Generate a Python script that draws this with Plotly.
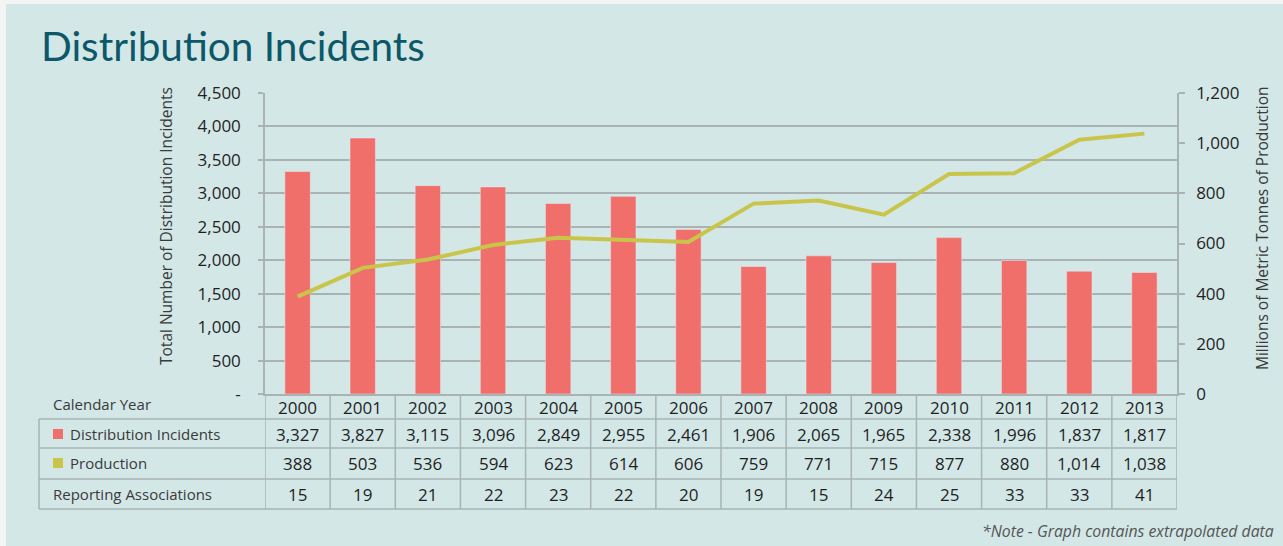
import plotly.graph_objects as go

years = [2000, 2001, 2002, 2003, 2004, 2005, 2006, 2007, 2008, 2009, 2010, 2011, 2012, 2013]
incidents = [3327, 3827, 3115, 3096, 2849, 2955, 2461, 1906, 2065, 1965, 2338, 1996, 1837, 1817]
production = [388, 503, 536, 594, 623, 614, 606, 759, 771, 715, 877, 880, 1014, 1038]
associations = [15, 19, 21, 22, 23, 22, 20, 19, 15, 24, 25, 33, 33, 41]
left_ticks = [0, 500, 1000, 1500, 2000, 2500, 3000, 3500, 4000, 4500]
right_ticks = [0, 200, 400, 600, 800, 1000, 1200]

W, H = 1283, 546
L, R, T, B = 265, 1177, 93, 394
BAR = "#f06f6a"
LINE = "#c9c54b"
GRID = "#a9b3b3"
TXT = "#1f1f1f"
FONT = "Open Sans"

def fx(p):
    return (p - L) / (R - L)

def fy(p):
    return (B - p) / (B - T)

xs = list(range(len(years)))

fig = go.Figure()
fig.add_trace(go.Bar(x=xs, y=incidents, marker_color=BAR, width=0.39, yaxis="y",
                     name="Distribution Incidents"))
fig.add_trace(go.Scatter(x=xs, y=production, mode="lines", line=dict(color=LINE, width=4),
                         yaxis="y2", name="Production"))

shapes = []
shapes.append(dict(type="rect", xref="paper", yref="paper", x0=fx(6), x1=fx(W + 5),
                   y0=fy(4), y1=fy(H + 5), fillcolor="#d3e7e7", line=dict(width=0), layer="below"))

rows = [394, 419, 448, 479, 509]
for r in rows[1:]:
    shapes.append(dict(type="line", xref="paper", yref="paper", x0=fx(39), x1=fx(R),
                       y0=fy(r), y1=fy(r), line=dict(color=GRID, width=1.5)))
for i in range(len(years) + 1):
    shapes.append(dict(type="line", xref="x", yref="paper", x0=i - 0.5, x1=i - 0.5,
                       y0=fy(394), y1=fy(509), line=dict(color=GRID, width=1.5)))
shapes.append(dict(type="line", xref="paper", yref="paper", x0=fx(39), x1=fx(39),
                   y0=fy(419), y1=fy(509), line=dict(color=GRID, width=1.5)))
shapes.append(dict(type="rect", xref="paper", yref="paper", x0=fx(53), x1=fx(63),
                   y0=fy(429), y1=fy(439), fillcolor=BAR, line=dict(width=0)))
shapes.append(dict(type="rect", xref="paper", yref="paper", x0=fx(53), x1=fx(63),
                   y0=fy(458), y1=fy(468), fillcolor=LINE, line=dict(width=0)))

ann = []
row_centers = [407, 434, 463, 494]
def fmt(v):
    return f"{v:,}"
cell_font = dict(size=17, color=TXT, family=FONT)
for i in xs:
    for r, val in zip(row_centers, [years[i], incidents[i], production[i], associations[i]]):
        txt = str(val) if r == row_centers[0] else fmt(val)
        ann.append(dict(x=i, y=fy(r), xref="x", yref="paper", text=txt, yanchor="middle",
                        xanchor="center", showarrow=False, font=cell_font))

labels = [("Calendar Year", 51, row_centers[0] - 3), ("Distribution Incidents", 68, row_centers[1]),
          ("Production", 68, row_centers[2]), ("Reporting Associations", 51, row_centers[3])]
for t, x, y in labels:
    ann.append(dict(x=fx(x), y=fy(y), xref="paper", yref="paper", text=t, xanchor="left",
                    yanchor="middle", showarrow=False,
                    font=dict(size=15, color="#3a3a3a", family=FONT)))

ann.append(dict(x=fx(39), y=fy(46), xref="paper", yref="paper", text="Distribution Incidents",
                xanchor="left", yanchor="middle", showarrow=False,
                font=dict(size=40.5, color="#0c5869", family="Lato")))
ann.append(dict(x=fx(166), y=fy(226), xref="paper", yref="paper", xanchor="center", yanchor="middle",
                text="Total Number of Distribution Incidents", textangle=-90, showarrow=False,
                font=dict(size=15.5, color="#3a3a3a", family=FONT)))
ann.append(dict(x=fx(1262), y=fy(228), xref="paper", yref="paper", xanchor="center", yanchor="middle",
                text="Millions of Metric Tonnes of Production", textangle=-90, showarrow=False,
                font=dict(size=15.5, color="#3a3a3a", family=FONT)))
ann.append(dict(x=fx(1276), y=fy(531), xref="paper", yref="paper", xanchor="right", yanchor="middle",
                text="<i>*Note - Graph contains extrapolated data</i>", showarrow=False,
                font=dict(size=15.8, color="#555555", family=FONT)))

fig.update_layout(
    width=W, height=H,
    margin=dict(l=L, r=W - R, t=T, b=H - B, pad=0),
    paper_bgcolor="#f3f5f5", plot_bgcolor="rgba(0,0,0,0)",
    showlegend=False,
    xaxis=dict(range=[-0.5, len(years) - 0.5], showticklabels=False, ticks="",
               showgrid=False, showline=True, linecolor=GRID, linewidth=1.5, zeroline=False),
    yaxis=dict(range=[0, 4500], tickvals=left_ticks,
               ticktext=["-"] + [fmt(v) for v in left_ticks[1:]],
               showgrid=True, gridcolor=GRID, gridwidth=1.5, ticks="outside", ticklen=5,
               tickcolor=GRID, tickwidth=1.5, showline=True, linecolor=GRID, linewidth=1.5,
               zeroline=False, ticklabelstandoff=14,
               tickfont=dict(size=17, color=TXT, family=FONT)),
    yaxis2=dict(range=[0, 1200], tickvals=right_ticks, ticktext=[fmt(v) for v in right_ticks],
                overlaying="y", side="right", showgrid=False, ticks="outside", ticklen=6,
                tickcolor=GRID, tickwidth=1.5, showline=True, linecolor=GRID, linewidth=1.5,
                zeroline=False, ticklabelstandoff=8,
                tickfont=dict(size=17, color=TXT, family=FONT)),
    shapes=shapes, annotations=ann,
)

fig.write_html("out.html", config={"displayModeBar": False},
               post_script="document.body.style.margin='0px';")
